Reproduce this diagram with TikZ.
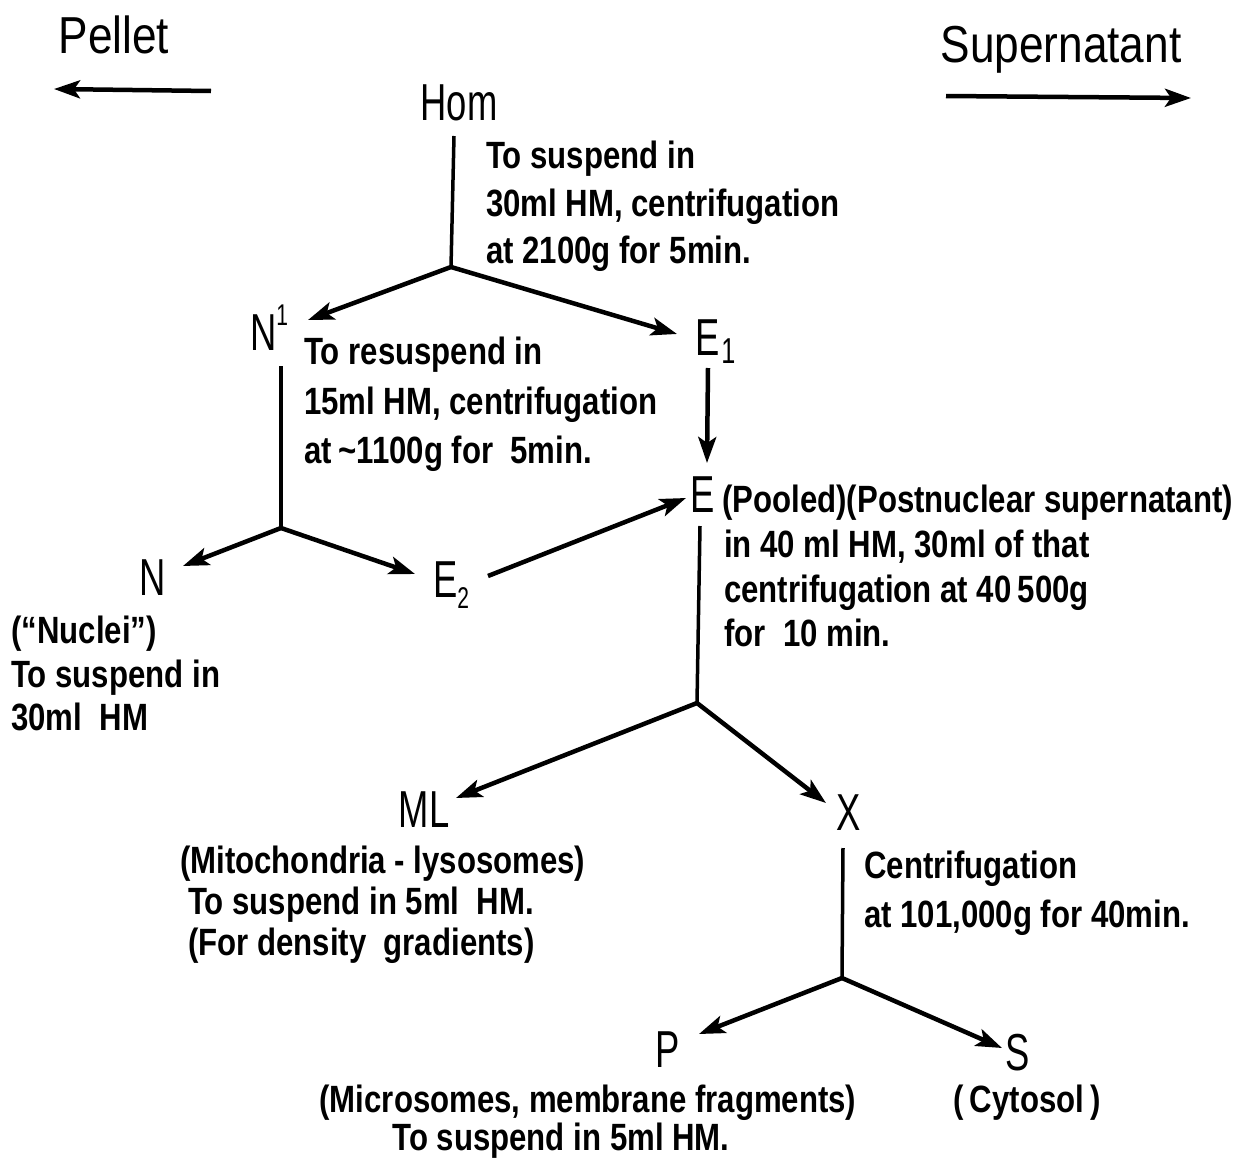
\documentclass[tikz,border=0pt]{standalone}
\usepackage{fontspec}
\setmainfont{Liberation Sans}[FakeStretch=0.82]
\newfontfamily\labfont{Liberation Sans}[FakeStretch=0.7]
\newfontfamily\headfont{Liberation Sans}[FakeStretch=0.85]
\usetikzlibrary{arrows.meta}
\begin{document}
\begin{tikzpicture}[x=1pt,y=-1pt,
  lab/.style={font=\labfont\fontsize{52}{52}\selectfont, inner sep=0pt, anchor=base},
  labw/.style={font=\labfont\fontsize{52}{52}\selectfont, inner sep=0pt, anchor=base west},
  head/.style={font=\headfont\fontsize{52}{52}\selectfont, inner sep=0pt, anchor=base},
  txt/.style={font=\fontsize{38}{46}\selectfont\bfseries, inner sep=0pt, anchor=base west},
  txtc/.style={font=\fontsize{38}{46}\selectfont\bfseries, inner sep=0pt, anchor=base},
  arr/.style={line width=4.5pt, -{Stealth[length=26pt,width=18pt,inset=6pt]}},
  stem/.style={line width=3.5pt}]
\useasboundingbox (0,0) rectangle (1243,1162);

% headers
\node[head] (pellet) at (114,53) {Pellet};
\node[head] (super) at (1061,62) {Supernatant};
\coordinate (pa1) at (211,91);
\coordinate (pa2) at (54,89);
\coordinate (sa1) at (946,96);
\coordinate (sa2) at (1191,98);
\draw[arr] (pa1) -- (pa2);
\draw[arr] (sa1) -- (sa2);

% Hom
\node[lab] (hom) at (459,120) {Hom};
\node[txt] (hom1) at (486,168) {To suspend in};
\node[txt] (hom2) at (486,216) {30ml HM, centrifugation};
\node[txt] (hom3) at (486,263) {at 2100g for 5min.};
\coordinate (homtop) at (454,136);
\coordinate (b1) at (451,267);
\draw[stem] (homtop) -- (b1);
\coordinate (n1tip) at (308,320);
\coordinate (e1tip) at (677,334);
\draw[arr] (b1) -- (n1tip);
\draw[arr] (b1) -- (e1tip);

% N1
\node[labw] (N1) at (250,350) {N\raisebox{25pt}{\fontsize{30}{30}\selectfont 1}};
\node[txt] (n1a) at (304,364) {To resuspend in};
\node[txt] (n1b) at (304,414) {15ml HM, centrifugation};
\node[txt] (n1c) at (304,463) {at\,\textasciitilde1100g for\ \ 5min.};
\coordinate (n1top) at (281,366);
\coordinate (b2) at (281,528);
\draw[stem] (n1top) -- (b2);
\coordinate (ntip) at (183,566);
\coordinate (e2tip) at (415,574);
\draw[arr] (b2) -- (ntip);
\draw[arr] (b2) -- (e2tip);

% N
\node[lab] (N) at (153,595) {N};
\node[txt] (nu1) at (11,643) {(“Nuclei”)};
\node[txt] (nu2) at (11,687) {To suspend in};
\node[txt] (nu3) at (11,730) {30ml\ \ HM};

% E2
\node[labw] (E2) at (433,597) {E\raisebox{-11pt}{\fontsize{30}{30}\selectfont 2}};
\coordinate (e2s) at (488,576);
\coordinate (etip) at (686,498);
\draw[arr] (e2s) -- (etip);

% E1
\node[labw] (E1) at (695,355) {E\hspace{2pt}\raisebox{-8pt}{\fontsize{36}{36}\selectfont 1}};
\coordinate (e1s) at (708,368);
\coordinate (e1e) at (707,463);
\draw[arr] (e1s) -- (e1e);

% E
\node[labw] (E) at (690,512) {E};
\node[txt] (ea) at (722,512) {(Pooled)(Postnuclear supernatant)};
\node[txt] (eb) at (724,557) {in 40 ml HM, 30ml of that};
\node[txt] (ec) at (724,602) {centrifugation at 40\,500g};
\node[txt] (ed) at (724,646) {for\ \ 10 min.};
\coordinate (etop) at (700,526);
\coordinate (b3) at (697,703);
\draw[stem] (etop) -- (b3);
\coordinate (mltip) at (456,798);
\coordinate (xtip) at (826,803);
\draw[arr] (b3) -- (mltip);
\draw[arr] (b3) -- (xtip);

% ML
\node[lab] (ML) at (424,827) {ML};
\node[txt] (ml1) at (180,873) {(Mitochondria - lysosomes)};
\node[txt] (ml2) at (188,914) {To suspend in 5ml\ \ HM.};
\node[txt] (ml3) at (188,955) {(For density\ \ gradients)};

% X
\node[lab] (X) at (849,830) {X};
\node[txt] (x1) at (864,878) {Centrifugation};
\node[txt] (x2) at (864,927) {at 101,000g for 40min.};
\coordinate (xtop) at (843,848);
\coordinate (b4) at (842,978);
\draw[stem] (xtop) -- (b4);
\coordinate (ptip) at (699,1034);
\coordinate (stip) at (1002,1048);
\draw[arr] (b4) -- (ptip);
\draw[arr] (b4) -- (stip);

% P, S
\node[lab] (P) at (668,1067) {P};
\node[lab] (S) at (1018,1070) {S};
\node[txtc] (p1) at (588,1112) {(Microsomes, membrane fragments)};
\node[txtc] (p2) at (561,1150) {To suspend in 5ml HM.};
\node[txtc] (cy) at (1027,1112) {(\,Cytosol\,)};
\end{tikzpicture}
\end{document}
